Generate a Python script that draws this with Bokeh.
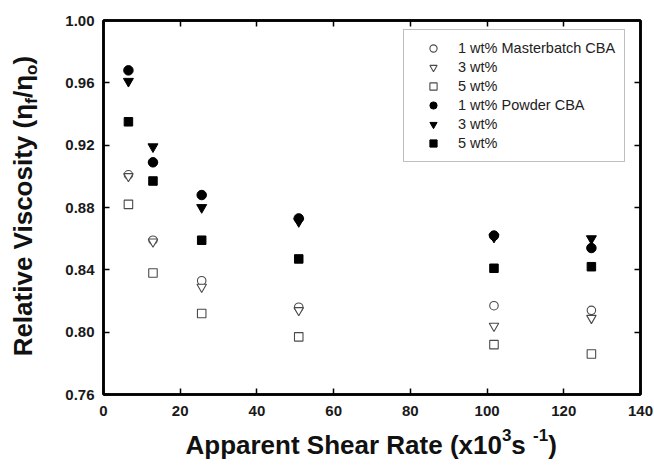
import math
from bokeh.plotting import figure
from bokeh.layouts import row, column
from bokeh.models import (LinearAxis, Range1d, Legend, LegendItem, Label,
                          FixedTicker, NumeralTickFormatter, CustomJSTickFormatter)
from bokeh.embed import file_html
from bokeh.resources import INLINE

# ---- data ----
shear_rate = [6.5, 12.9, 25.6, 50.9, 101.8, 127.2]
mb_1wt = [0.901, 0.859, 0.833, 0.816, 0.817, 0.814]
mb_3wt = [0.900, 0.858, 0.829, 0.814, 0.804, 0.809]
mb_5wt = [0.882, 0.838, 0.812, 0.797, 0.792, 0.786]
pw_1wt = [0.968, 0.909, 0.888, 0.873, 0.862, 0.854]
pw_3wt = [0.961, 0.919, 0.880, 0.871, 0.861, 0.860]
pw_5wt = [0.935, 0.897, 0.859, 0.847, 0.841, 0.842]

x_ticks = [0, 20, 40, 60, 80, 100, 120, 140]
y_ticks = [0.76, 0.80, 0.84, 0.88, 0.92, 0.96, 1.00]

labels = ["1 wt% Masterbatch CBA", "3 wt%", "5 wt%",
          "1 wt% Powder CBA", "3 wt%", "5 wt%"]

FONT = "Liberation Sans"
YW = 45                 # width of the strip holding the y title
BL, BR, BT, BB = 103 - YW, 13, 20, 32
FW, FH = 537, 374
MAIN_H = BT + FH + BB
MAIN_W = BL + FW + BR
XH = 471 - MAIN_H       # height of the strip holding the x title

p = figure(frame_width=FW, frame_height=FH,
           min_border_left=BL, min_border_right=BR,
           min_border_top=BT, min_border_bottom=BB,
           x_range=Range1d(0, 140), y_range=Range1d(0.76, 1.00),
           output_backend="svg", toolbar_location=None)
p.title.visible = False
p.grid.visible = False
p.outline_line_color = "black"
p.outline_line_width = 2.5
p.background_fill_color = "white"
p.border_fill_color = "white"


def style_axis(ax, show_labels):
    ax.axis_line_color = "black"
    ax.axis_line_width = 2.5
    ax.major_tick_in = 6
    ax.major_tick_out = 0
    ax.major_tick_line_width = 1.5
    ax.major_tick_line_color = "black"
    ax.minor_tick_line_color = None
    ax.major_label_text_font = FONT
    ax.major_label_text_font_style = "bold"
    ax.major_label_text_font_size = "15px"
    ax.major_label_text_color = "#1a1a1a"
    if not show_labels:
        ax.formatter = CustomJSTickFormatter(code="return ''")
        ax.major_label_standoff = 0


p.xaxis.ticker = FixedTicker(ticks=x_ticks)
p.yaxis.ticker = FixedTicker(ticks=y_ticks)
p.yaxis.formatter = NumeralTickFormatter(format="0.00")
style_axis(p.xaxis[0], True)
style_axis(p.yaxis[0], True)
p.xaxis.major_label_standoff = 11
p.yaxis.major_label_standoff = 9

top_ax = LinearAxis(ticker=FixedTicker(ticks=x_ticks))
right_ax = LinearAxis(ticker=FixedTicker(ticks=y_ticks))
style_axis(top_ax, False)
style_axis(right_ax, False)
p.add_layout(top_ax, "above")
p.add_layout(right_ax, "right")

open_col = "#4a4a4a"
r1 = p.scatter(shear_rate, mb_1wt, marker="circle", size=8.5,
               fill_color="white", line_color=open_col, line_width=1.1)
r2 = p.scatter(shear_rate, mb_3wt, marker="inverted_triangle", size=9.5,
               fill_color="white", line_color=open_col, line_width=1.1)
r3 = p.scatter(shear_rate, mb_5wt, marker="square", size=8.5,
               fill_color="white", line_color=open_col, line_width=1.1)
r4 = p.scatter(shear_rate, pw_1wt, marker="circle", size=9.5,
               fill_color="black", line_color="black")
r5 = p.scatter(shear_rate, pw_3wt, marker="inverted_triangle", size=10,
               fill_color="black", line_color="black")
r6 = p.scatter(shear_rate, pw_5wt, marker="square", size=8.5,
               fill_color="black", line_color="black")

legend = Legend(items=[LegendItem(label=l, renderers=[r]) for l, r in
                       zip(labels, [r1, r2, r3, r4, r5, r6])],
                location=(300, 232),
                label_text_font=FONT, label_text_font_size="14.5px",
                label_text_color="#222222",
                padding=9, margin=0, spacing=1,
                glyph_width=40, glyph_height=18, label_height=18,
                label_standoff=5,
                border_line_color="#808080", border_line_width=1.2,
                background_fill_color="white", background_fill_alpha=1)
p.add_layout(legend, "center")

# ---- axis titles with real sub/superscripts, in their own strips ----
F = 26
SF = 17
W = {"A": .722, "p": .611, "a": .556, "r": .389, "e": .556, "n": .611,
     "t": .333, " ": .278, "S": .667, "h": .611, "R": .722, "(": .333,
     "x": .556, "1": .556, "0": .556, "3": .556, "s": .556, "-": .333,
     ")": .333, "l": .278, "i": .278, "v": .556, "V": .667, "c": .556,
     "o": .611, "y": .556, "η": .611, "f": .333, "/": .278}


def width(txt, size):
    return sum(W.get(c, .556) for c in txt) * size


def strip(w, h):
    f = figure(width=w, height=h, min_border=0,
               min_border_left=0, min_border_right=0,
               min_border_top=0, min_border_bottom=0,
               x_range=Range1d(0, w), y_range=Range1d(h, 0),
               x_axis_location=None, y_axis_location=None,
               output_backend="svg", toolbar_location=None)
    f.title.visible = False
    f.grid.visible = False
    f.outline_line_color = None
    f.background_fill_color = "white"
    f.border_fill_color = "white"
    return f


def add_label(fig, x, y, dx, dy, txt, sz, angle=0.0, align="left",
              baseline="alphabetic"):
    # one shared anchor per title; pieces are placed by pixel offsets
    fig.add_layout(Label(x=x, y=y, x_offset=dx, y_offset=dy, angle=angle,
                         text=txt, text_font=FONT, text_font_style="bold",
                         text_font_size=f"{sz}px", text_color="#111111",
                         text_align=align, text_baseline=baseline))


# y title: rotated pieces reading upward, chained by pixel offsets
yfig = strip(YW, MAIN_H)
y_parts = [("Relative Viscosity (η", F, 0), ("f", SF, 5), ("/η", F, 0),
           ("o", SF, 5), (")", F, 0)]
BASE_X = 32.0
main_w = width(y_parts[0][0], F)
anchor_x = BASE_X - 0.35 * F
anchor_y = 355.0 - main_w / 2
run = 0.0
for txt, sz, shift in y_parts:
    w = width(txt, sz)
    centre_along = run + w / 2            # distance from text start
    dx = (BASE_X + shift - 0.35 * sz) - anchor_x
    dy = (centre_along - main_w / 2) - 9.0   # positive = upwards
    add_label(yfig, anchor_x, anchor_y, dx, dy, txt, sz,
              angle=math.pi / 2, align="center", baseline="middle")
    run += w

# x title, chained by pixel offsets from one anchor
xfig = strip(YW + MAIN_W, XH)
x_parts = [("Apparent Shear Rate (x10", F, 0), ("3", SF, 10),
           (" s", F, 0), ("-1", SF, 10), (")", F, 0)]
run = 0.0
for txt, sz, shift in x_parts:
    add_label(xfig, 185.0, 452 - MAIN_H, run, 8 + shift, txt, sz)
    run += width(txt, sz)

layout = column(row(yfig, p, spacing=0), xfig, spacing=0)

open("out.html", "w").write(file_html(layout, INLINE))
